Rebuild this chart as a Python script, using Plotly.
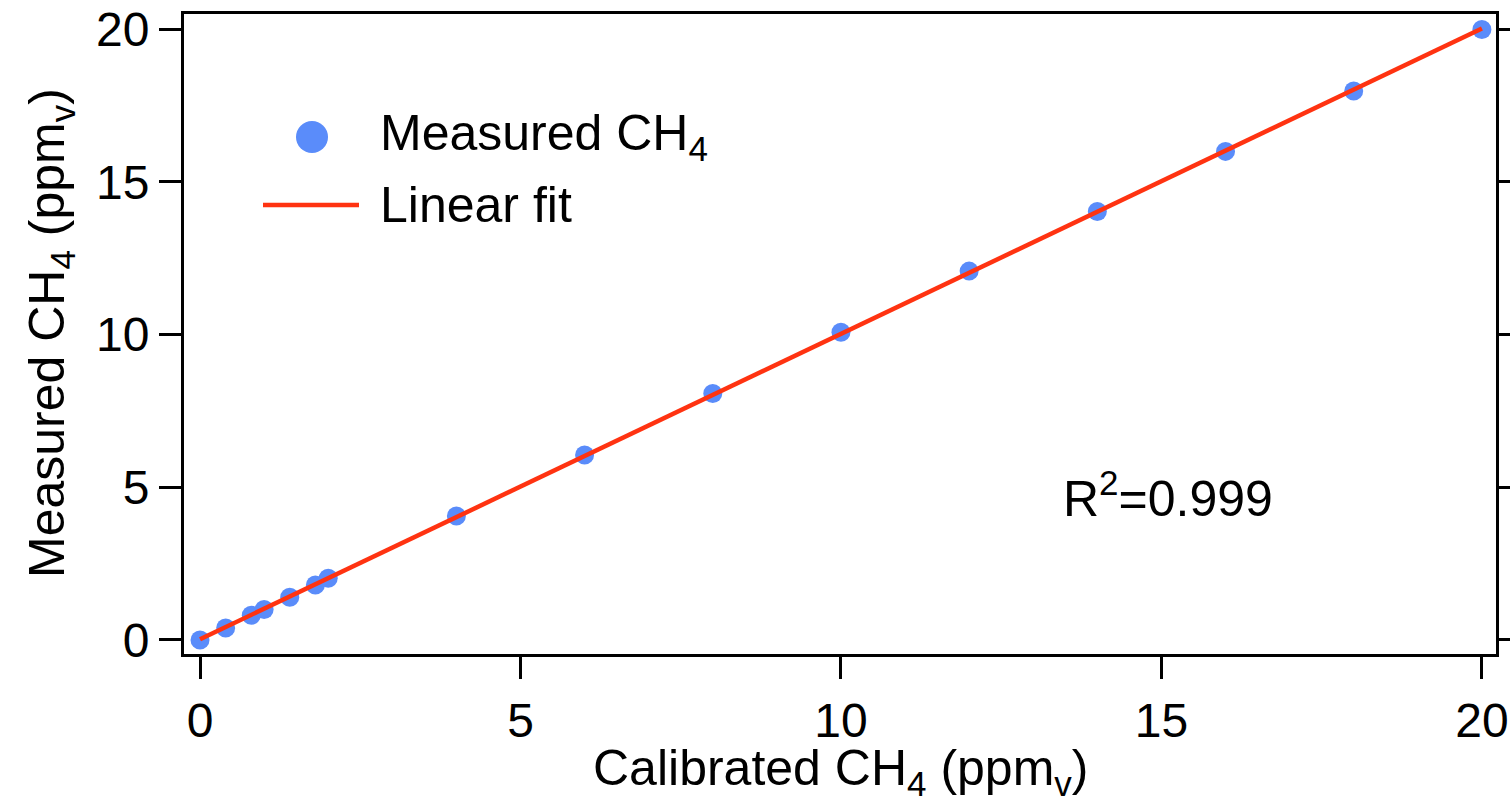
import numpy as np
import plotly.graph_objects as go

calibrated = [0, 0.4, 0.8, 1.0, 1.4, 1.8, 2.0, 4, 6, 8, 10, 12, 14, 16, 18, 20]
measured = [0.0, 0.39, 0.81, 1.0, 1.4, 1.8, 2.02, 4.06, 6.06, 8.07, 10.08, 12.08, 14.03, 16.0, 17.98, 19.99]
r2_text = "R<sup>2</sup>=0.999"

slope, intercept = np.polyfit(calibrated, measured, 1)
fit_x = [min(calibrated), max(calibrated)]
fit_y = [slope * v + intercept for v in fit_x]

BLUE = "#5A8CFA"
RED = "#FF3311"
FONT = "Liberation Sans, Arial, sans-serif"
TICK_SIZE = 48
TEXT_SIZE = 50

W, H = 1510, 803
L, R, T, B = 184, 14, 14, 149
pw, ph = W - L - R, H - T - B

def px(x):
    return (x - L) / pw

def py(y):
    return (H - B - y) / ph

fig = go.Figure()
fig.add_trace(go.Scatter(x=calibrated, y=measured, mode="markers",
                         marker=dict(color=BLUE, size=19, line=dict(width=0)),
                         name="Measured CH<sub>4</sub>", showlegend=False))
fig.add_trace(go.Scatter(x=fit_x, y=fit_y, mode="lines",
                         line=dict(color=RED, width=4.5),
                         name="Linear fit", showlegend=False))

axis_common = dict(showgrid=False, zeroline=False, showline=True, linecolor="black",
                   linewidth=3, ticks="outside", ticklen=22, tickwidth=3, tickcolor="black",
                   automargin=False,
                   tickfont=dict(size=TICK_SIZE, color="black", family=FONT))

fig.update_xaxes(range=[-0.25, 20.22], tickvals=[0, 5, 10, 15, 20], mirror=True,
                 **axis_common)
fig.update_yaxes(range=[-0.46, 20.5], tickvals=[0, 5, 10, 15, 20], mirror="ticks",
                 **axis_common)

# axis titles
fig.add_annotation(x=px(840), y=py(771), xref="paper", yref="paper",
                   text="Calibrated CH<sub>4</sub> (ppm<sub>v</sub>)", showarrow=False,
                   xanchor="center", yanchor="middle",
                   font=dict(size=TEXT_SIZE, color="black", family=FONT))
fig.add_annotation(x=px(50), y=py(333), xref="paper", yref="paper",
                   text="Measured CH<sub>4</sub> (ppm<sub>v</sub>)", showarrow=False,
                   xanchor="center", yanchor="middle", textangle=-90,
                   font=dict(size=TEXT_SIZE, color="black", family=FONT))

# manual legend
fig.add_shape(type="circle", xref="paper", yref="paper", xsizemode="pixel", ysizemode="pixel",
              xanchor=px(312), yanchor=py(137), x0=-16, x1=16, y0=-16, y1=16,
              fillcolor=BLUE, line=dict(width=0))
fig.add_shape(type="line", xref="paper", yref="paper", x0=px(263), x1=px(359), y0=py(205), y1=py(205),
              line=dict(color=RED, width=4.5))
fig.add_annotation(x=px(378), y=py(137), xref="paper", yref="paper", text="Measured CH<sub>4</sub>",
                   showarrow=False, xanchor="left", yanchor="middle",
                   font=dict(size=TEXT_SIZE, color="black", family=FONT))
fig.add_annotation(x=px(378), y=py(205), xref="paper", yref="paper", text="Linear fit",
                   showarrow=False, xanchor="left", yanchor="middle",
                   font=dict(size=TEXT_SIZE, color="black", family=FONT))
fig.add_annotation(x=15.1, y=4.75, xref="x", yref="y", text=r2_text, showarrow=False,
                   font=dict(size=TEXT_SIZE, color="black", family=FONT))

fig.update_layout(width=W, height=H, margin=dict(l=L, r=R, t=T, b=B, autoexpand=False),
                  paper_bgcolor="white", plot_bgcolor="white", showlegend=False,
                  font=dict(family=FONT, color="black"))

fig.write_html("out.html")
